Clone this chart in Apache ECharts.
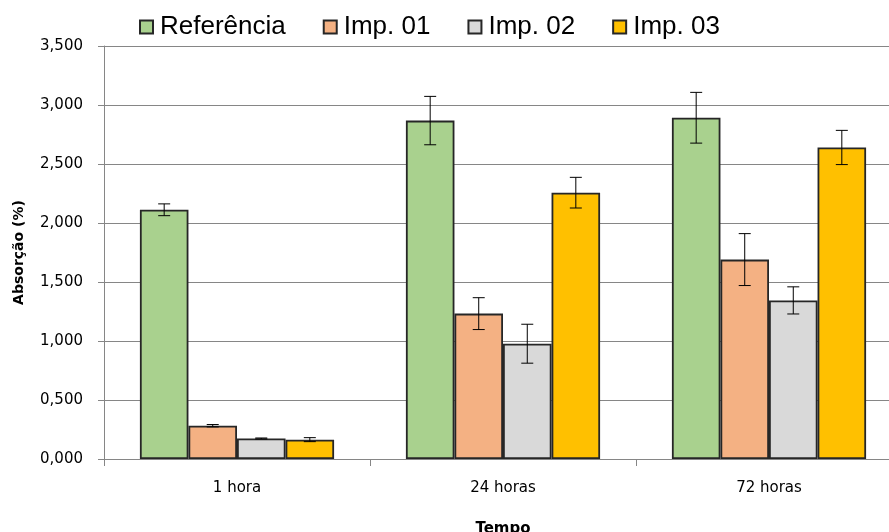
<!DOCTYPE html>
<html>
<head>
<meta charset="utf-8">
<script src="https://cdn.jsdelivr.net/npm/echarts@6/dist/echarts.min.js"></script>
<style>html,body{margin:0;padding:0;background:#fff}#c{width:889px;height:532px}</style>
</head>
<body>
<div id="c"></div>
<script>
const categories = ['1 hora', '24 horas', '72 horas'];
const seriesNames = ['Referência', 'Imp. 01', 'Imp. 02', 'Imp. 03'];
const referencia = [2.112, 2.868, 2.892];
const imp01 = [0.282, 1.232, 1.690];
const imp02 = [0.174, 0.977, 1.344];
const imp03 = [0.164, 2.257, 2.640];
const errReferencia = [0.050, 0.205, 0.215];
const errImp01 = [0.010, 0.135, 0.220];
const errImp02 = [0.004, 0.165, 0.115];
const errImp03 = [0.017, 0.130, 0.145];
const yTicks = { min: 0, max: 3.5, interval: 0.5 };

const values = [referencia, imp01, imp02, imp03];
const errors = [errReferencia, errImp01, errImp02, errImp03];
const colors = ['#A9D18E', '#F4B183', '#D9D9D9', '#FFC000'];
const catGap = 0.27;

const chart = echarts.init(document.getElementById('c'));
const series = [];
values.forEach((vals, i) => {
  series.push({
    name: seriesNames[i],
    type: 'bar',
    data: vals,
    barGap: '0%',
    barCategoryGap: (catGap * 100) + '%',
    itemStyle: { color: colors[i], borderColor: '#262626', borderWidth: 1.8 },
    emphasis: { disabled: true }
  });
});
values.forEach((vals, i) => {
  series.push({
    type: 'custom',
    name: seriesNames[i] + '_err',
    silent: true,
    z: 10,
    data: vals.map((v, k) => [k, v - errors[i][k], v + errors[i][k]]),
    renderItem: function (params, api) {
      const k = api.value(0);
      const lo = api.coord([k, api.value(1)]);
      const hi = api.coord([k, api.value(2)]);
      const band = api.size([1, 0])[0];
      const group = band * (1 - catGap);
      const bw = group / 4;
      const x = lo[0] - group / 2 + bw * (i + 0.5);
      const cap = 6;
      const st = { stroke: '#000', lineWidth: 1 };
      return {
        type: 'group',
        children: [
          { type: 'line', shape: { x1: x, y1: lo[1], x2: x, y2: hi[1] }, style: st },
          { type: 'line', shape: { x1: x - cap, y1: lo[1], x2: x + cap, y2: lo[1] }, style: st },
          { type: 'line', shape: { x1: x - cap, y1: hi[1], x2: x + cap, y2: hi[1] }, style: st }
        ]
      };
    }
  });
});

chart.setOption({
  animation: false,
  backgroundColor: '#fff',
  legend: {
    data: seriesNames,
    left: 134,
    top: 9,
    icon: 'rect',
    itemWidth: 13,
    itemHeight: 13,
    itemGap: 37,
    textStyle: { fontFamily: 'Liberation Sans, Arial', fontSize: 26, color: '#000', padding: [0, 0, 0, 2] }
  },
  grid: { left: 104, right: -13, top: 46, bottom: 73, containLabel: false, outerBoundsMode: 'none' },
  xAxis: {
    type: 'category',
    data: categories,
    name: 'Tempo',
    nameLocation: 'middle',
    nameGap: 63,
    nameTextStyle: { fontFamily: 'DejaVu Sans', fontSize: 15, fontWeight: 'bold', color: '#000' },
    axisLine: { lineStyle: { color: '#868686', width: 1 } },
    axisTick: { show: true, length: 7, lineStyle: { color: '#868686' } },
    axisLabel: { fontFamily: 'DejaVu Sans', fontSize: 15, color: '#000', margin: 22 }
  },
  yAxis: {
    type: 'value',
    min: yTicks.min,
    max: yTicks.max,
    interval: yTicks.interval,
    name: 'Absorção (%)',
    nameLocation: 'middle',
    nameGap: 78,
    nameTextStyle: { fontFamily: 'DejaVu Sans', fontSize: 14, fontWeight: 'bold', color: '#000' },
    axisLine: { show: true, lineStyle: { color: '#868686', width: 1 } },
    axisTick: { show: true, length: 6, lineStyle: { color: '#868686' } },
    splitLine: { show: true, lineStyle: { color: '#868686', width: 1 } },
    axisLabel: {
      fontFamily: 'DejaVu Sans', fontSize: 15, color: '#000', margin: 21,
      formatter: v => v.toFixed(3).replace('.', ',')
    }
  },
  series: series
});
</script>
</body>
</html>
